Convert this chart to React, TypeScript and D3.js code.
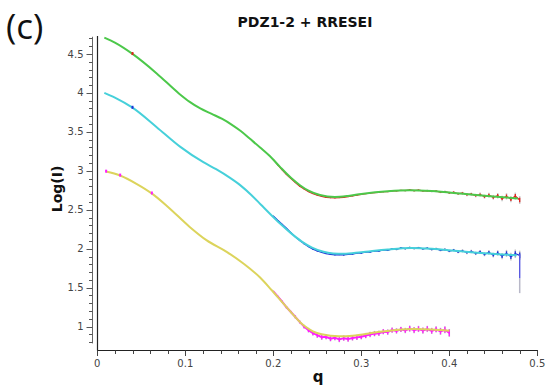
import { useEffect, useRef } from "react"
import * as d3 from "d3"

const TITLE = "PDZ1-2 + RRESEI"
const X_TICKS = [0, 0.1, 0.2, 0.3, 0.4, 0.5]
const Y_TICKS = [1, 1.5, 2, 2.5, 3, 3.5, 4, 4.5]

// smooth model curves [q, log I]
const FIT_TOP: [number, number][] = [
    [0.008, 4.71], [0.02, 4.645], [0.04, 4.5], [0.0675, 4.25], [0.093, 3.99], [0.105, 3.885],
    [0.117, 3.8], [0.13, 3.73], [0.142, 3.665], [0.153, 3.59], [0.163, 3.51], [0.1735, 3.41],
    [0.185, 3.3], [0.196, 3.19], [0.2076, 3.05], [0.22, 2.91], [0.2303, 2.815], [0.24, 2.745],
    [0.253, 2.69], [0.27, 2.665], [0.285, 2.678], [0.3, 2.702], [0.33, 2.737], [0.355, 2.75],
    [0.38, 2.74], [0.416, 2.705], [0.45, 2.67], [0.478, 2.645]
]
const FIT_MID: [number, number][] = [
    [0.008, 4.0], [0.02, 3.94], [0.04, 3.81], [0.0675, 3.56], [0.094, 3.31], [0.1205, 3.11],
    [0.135, 3.02], [0.15, 2.915], [0.163, 2.81], [0.175, 2.69], [0.186, 2.565], [0.197, 2.44],
    [0.208, 2.32], [0.22, 2.2], [0.232, 2.095], [0.244, 2.015], [0.256, 1.965], [0.268, 1.94],
    [0.28, 1.934], [0.3, 1.955], [0.33, 1.991], [0.357, 2.009], [0.38, 1.999], [0.41, 1.97],
    [0.44, 1.942], [0.4766, 1.917]
]
const FIT_LOW: [number, number][] = [
    [0.0099, 2.99], [0.0258, 2.94], [0.045, 2.83], [0.0618, 2.71], [0.08, 2.54], [0.105, 2.28],
    [0.124, 2.11], [0.147, 1.96], [0.166, 1.81], [0.185, 1.63], [0.198, 1.47], [0.215, 1.25],
    [0.234, 1.02], [0.245, 0.94], [0.255, 0.902], [0.275, 0.876], [0.29, 0.883], [0.3175, 0.928],
    [0.34, 0.958], [0.36, 0.969], [0.38, 0.963], [0.4, 0.948]
]

// measured q values (shared by the three data sets)
const Q_DATA = [
    0.2, 0.205, 0.21, 0.215, 0.22, 0.225, 0.23, 0.235, 0.24, 0.245,
    0.25, 0.255, 0.26, 0.265, 0.27, 0.275, 0.28, 0.285, 0.29, 0.295,
    0.3, 0.305, 0.31, 0.315, 0.32, 0.325, 0.33, 0.335, 0.34, 0.345,
    0.35, 0.355, 0.36, 0.365, 0.37, 0.375, 0.38, 0.385, 0.39, 0.395,
    0.4, 0.405, 0.41, 0.415, 0.42, 0.425, 0.43, 0.435, 0.44, 0.445,
    0.45, 0.455, 0.46, 0.465, 0.47, 0.475, 0.48
]
const I_TOP = [
    3.145, 3.075, 3.012, 2.952, 2.9, 2.848, 2.803, 2.766, 2.731, 2.706,
    2.686, 2.671, 2.66, 2.654, 2.652, 2.655, 2.66, 2.668, 2.678, 2.688,
    2.696, 2.706, 2.712, 2.72, 2.724, 2.731, 2.733, 2.741, 2.742, 2.75,
    2.746, 2.754, 2.745, 2.752, 2.743, 2.746, 2.735, 2.74, 2.727, 2.732,
    2.717, 2.724, 2.706, 2.712, 2.694, 2.7, 2.682, 2.695, 2.668, 2.688,
    2.66, 2.68, 2.645, 2.672, 2.635, 2.675, 2.625
]
const E_TOP = [
    0.005, 0.005, 0.005, 0.005, 0.005, 0.005, 0.005, 0.005, 0.005, 0.005,
    0.006, 0.008, 0.008, 0.008, 0.008, 0.008, 0.008, 0.008, 0.008, 0.008,
    0.008, 0.008, 0.008, 0.008, 0.008, 0.008, 0.008, 0.008, 0.008, 0.008,
    0.01, 0.012, 0.012, 0.012, 0.012, 0.012, 0.012, 0.014, 0.014, 0.014,
    0.015, 0.015, 0.016, 0.018, 0.02, 0.02, 0.022, 0.025, 0.025, 0.03,
    0.03, 0.035, 0.035, 0.04, 0.04, 0.045, 0.05
]
const I_MID = [
    2.42, 2.365, 2.315, 2.262, 2.205, 2.152, 2.105, 2.062, 2.025, 1.995,
    1.97, 1.952, 1.938, 1.928, 1.922, 1.925, 1.92, 1.928, 1.93, 1.942,
    1.942, 1.958, 1.956, 1.972, 1.968, 1.985, 1.98, 1.998, 1.99, 2.01,
    2.0, 2.016, 2.002, 2.013, 1.998, 2.008, 1.99, 2.0, 1.98, 1.99,
    1.97, 1.982, 1.96, 1.973, 1.95, 1.965, 1.94, 1.958, 1.928, 1.952,
    1.918, 1.945, 1.905, 1.94, 1.898, 1.935, 1.915
]
const E_MID = [
    0.005, 0.005, 0.005, 0.005, 0.005, 0.005, 0.005, 0.006, 0.006, 0.008,
    0.008, 0.008, 0.01, 0.01, 0.01, 0.01, 0.01, 0.01, 0.01, 0.01,
    0.01, 0.01, 0.01, 0.01, 0.01, 0.01, 0.01, 0.012, 0.012, 0.012,
    0.012, 0.012, 0.012, 0.012, 0.012, 0.014, 0.014, 0.014, 0.015, 0.015,
    0.016, 0.016, 0.018, 0.02, 0.02, 0.022, 0.022, 0.025, 0.025, 0.03,
    0.03, 0.035, 0.04, 0.045, 0.05, 0.055, 0.06
]
const I_LOW = [
    1.452, 1.388, 1.322, 1.248, 1.188, 1.125, 1.06, 1.0, 0.955, 0.915,
    0.89, 0.865, 0.87, 0.845, 0.858, 0.835, 0.852, 0.84, 0.855, 0.862,
    0.87, 0.885, 0.9, 0.91, 0.915, 0.935, 0.93, 0.955, 0.945, 0.965,
    0.95, 0.975, 0.955, 0.97, 0.95, 0.97, 0.945, 0.965, 0.94, 0.96,
    0.92
]
const E_LOW = [
    0.01, 0.01, 0.012, 0.015, 0.015, 0.02, 0.02, 0.025, 0.03, 0.03,
    0.035, 0.035, 0.035, 0.035, 0.035, 0.035, 0.035, 0.035, 0.035, 0.035,
    0.035, 0.035, 0.035, 0.035, 0.035, 0.035, 0.035, 0.035, 0.035, 0.035,
    0.035, 0.04, 0.04, 0.04, 0.04, 0.04, 0.04, 0.04, 0.045, 0.045,
    0.05
]
// last blue point drops sharply at q = 0.48 (value range, then its error range)
const MID_SPIKE: [number, number][] = [[0.48, 1.93], [0.48, 1.62]]
const MID_SPIKE_ERR: [number, number][] = [[0.48, 1.62], [0.48, 1.43]]
// stray low-q measured points visible above the fits
const DOTS_TOP: [number, number][] = [[0.04, 4.505]]
const DOTS_MID: [number, number][] = [[0.04, 3.815]]
const DOTS_LOW: [number, number][] = [[0.01, 2.995], [0.026, 2.945], [0.062, 2.715]]

const SERIES = [
    { fit: FIT_TOP, data: I_TOP, err: E_TOP, dots: DOTS_TOP, fitColor: "#4cc84a", dataColor: "#e3201b", w: 1.2, bar: 0.6 },
    { fit: FIT_MID, data: I_MID, err: E_MID, dots: DOTS_MID, fitColor: "#46d0da", dataColor: "#1d2fd8", w: 1.2, bar: 0.6 },
    { fit: FIT_LOW, data: I_LOW, err: E_LOW, dots: DOTS_LOW, fitColor: "#dcd45c", dataColor: "#ff1cff", w: 2, bar: 0.85 }
]

export default function App() {
    const svgRef = useRef<SVGSVGElement>(null)

    useEffect(() => {
        const svg = d3.select(svgRef.current)
        svg.selectAll("*").remove()

        const x = d3.scaleLinear().domain([0, 0.5]).range([97.3, 537.3])
        const y = d3.scaleLinear().domain([0.7, 4.73]).range([350, 36])
        const font = "'DejaVu Sans', sans-serif"

        // y tick column
        const yMinor = y.ticks(40).filter(v => v >= 0.79 && v <= 4.71)
        const yAxis = svg.append("g").attr("transform", "translate(92.5,0)")
        yAxis.append("line")
            .attr("y1", y(4.72)).attr("y2", y(0.785))
            .attr("stroke", "#666").attr("stroke-width", 1)
        yAxis.selectAll("line.minor").data(yMinor).join("line")
            .attr("class", "minor")
            .attr("x1", v => Y_TICKS.some(t => Math.abs(t - v) < 1e-6) ? -6 : -3.5).attr("x2", 0)
            .attr("y1", v => Math.round(y(v)) + 0.5).attr("y2", v => Math.round(y(v)) + 0.5)
            .attr("stroke", "#555").attr("stroke-width", 1)
        yAxis.selectAll("text").data(Y_TICKS).join("text")
            .attr("x", -9).attr("y", v => y(v) + 3.6)
            .attr("text-anchor", "end")
            .attr("font-family", font).attr("font-size", 10).attr("fill", "#444")
            .text(v => String(v))

        // frame lines
        svg.append("line")
            .attr("x1", 97.5).attr("x2", 97.5).attr("y1", 36).attr("y2", 350.5)
            .attr("stroke", "#222").attr("stroke-width", 1.2)
        svg.append("line")
            .attr("x1", 97).attr("x2", 538).attr("y1", 350.5).attr("y2", 350.5)
            .attr("stroke", "#222").attr("stroke-width", 1.2)

        // x ticks
        const xMinor = x.ticks(25)
        svg.append("g").selectAll("line").data(xMinor).join("line")
            .attr("x1", v => Math.round(x(v)) + 0.5).attr("x2", v => Math.round(x(v)) + 0.5)
            .attr("y1", 350.5)
            .attr("y2", v => X_TICKS.some(t => Math.abs(t - v) < 1e-6) ? 356 : 354)
            .attr("stroke", "#444").attr("stroke-width", 1)
        svg.append("g").selectAll("text").data(X_TICKS).join("text")
            .attr("x", v => x(v)).attr("y", 367)
            .attr("text-anchor", "middle")
            .attr("font-family", font).attr("font-size", 10).attr("fill", "#444")
            .text(v => String(v))

        // curves
        const line = d3.line<[number, number]>()
            .x(d => x(d[0])).y(d => y(d[1]))
        const smooth = d3.line<[number, number]>()
            .x(d => x(d[0])).y(d => y(d[1]))
            .curve(d3.curveMonotoneX)

        const plot = svg.append("g")
        // grey error bars
        SERIES.forEach(s => {
            const pts: [number, number][] = s.data.map((v, i) => [Q_DATA[i], v])
            plot.append("g").selectAll("line").data(pts).join("line")
                .attr("x1", d => x(d[0])).attr("x2", d => x(d[0]))
                .attr("y1", (d, i) => y(d[1] - s.err[i])).attr("y2", (d, i) => y(d[1] + s.err[i]))
                .attr("stroke", "#c4c4c4").attr("stroke-width", 1.5)
        })
        plot.append("path").datum(MID_SPIKE_ERR)
            .attr("d", line).attr("stroke", "#b8b8c8").attr("stroke-width", 1.5)
        // measured data
        SERIES.forEach(s => {
            const pts: [number, number][] = s.data.map((v, i) => [Q_DATA[i], v])
            plot.append("path").datum(pts)
                .attr("d", line)
                .attr("fill", "none").attr("stroke", s.dataColor).attr("stroke-width", s.w)
            plot.append("g").selectAll("line").data(pts).join("line")
                .attr("x1", d => x(d[0])).attr("x2", d => x(d[0]))
                .attr("y1", (d, i) => y(d[1] - s.err[i] * s.bar)).attr("y2", (d, i) => y(d[1] + s.err[i] * s.bar))
                .attr("stroke", s.dataColor).attr("stroke-width", 1.3)
        })
        plot.append("path").datum(MID_SPIKE)
            .attr("d", line).attr("stroke", "#5a5ae0").attr("stroke-width", 1.4)
        // fits on top
        SERIES.forEach(s => {
            plot.append("path").datum(s.fit)
                .attr("d", smooth)
                .attr("fill", "none").attr("stroke", s.fitColor).attr("stroke-width", 2)
            plot.append("g").selectAll("rect").data(s.dots).join("rect")
                .attr("x", d => x(d[0]) - 1).attr("y", d => y(d[1]) - 1.5)
                .attr("width", 2).attr("height", 3)
                .attr("fill", s.dataColor)
        })

        // labels
        svg.append("text")
            .attr("x", 305).attr("y", 27)
            .attr("text-anchor", "middle")
            .attr("font-family", font).attr("font-weight", "bold").attr("font-size", 14)
            .attr("fill", "#111")
            .text(TITLE)
        svg.append("text")
            .attr("x", 6).attr("y", 39)
            .attr("font-family", "'Open Sans', sans-serif").attr("font-size", 35)
            .attr("fill", "#111")
            .text("(c)")
        svg.append("text")
            .attr("transform", "translate(62,189) rotate(-90)")
            .attr("text-anchor", "middle")
            .attr("font-family", font).attr("font-weight", "bold").attr("font-size", 14)
            .attr("fill", "#111")
            .text("Log(I)")
        svg.append("text")
            .attr("x", 318).attr("y", 382)
            .attr("text-anchor", "middle")
            .attr("font-family", font).attr("font-weight", "bold").attr("font-size", 15)
            .attr("fill", "#111")
            .text("q")
    }, [])

    return (
        <svg ref={svgRef} width={546} height={388}
            style={{ position: "absolute", left: 0, top: 0, background: "#fff" }} />
    )
}
